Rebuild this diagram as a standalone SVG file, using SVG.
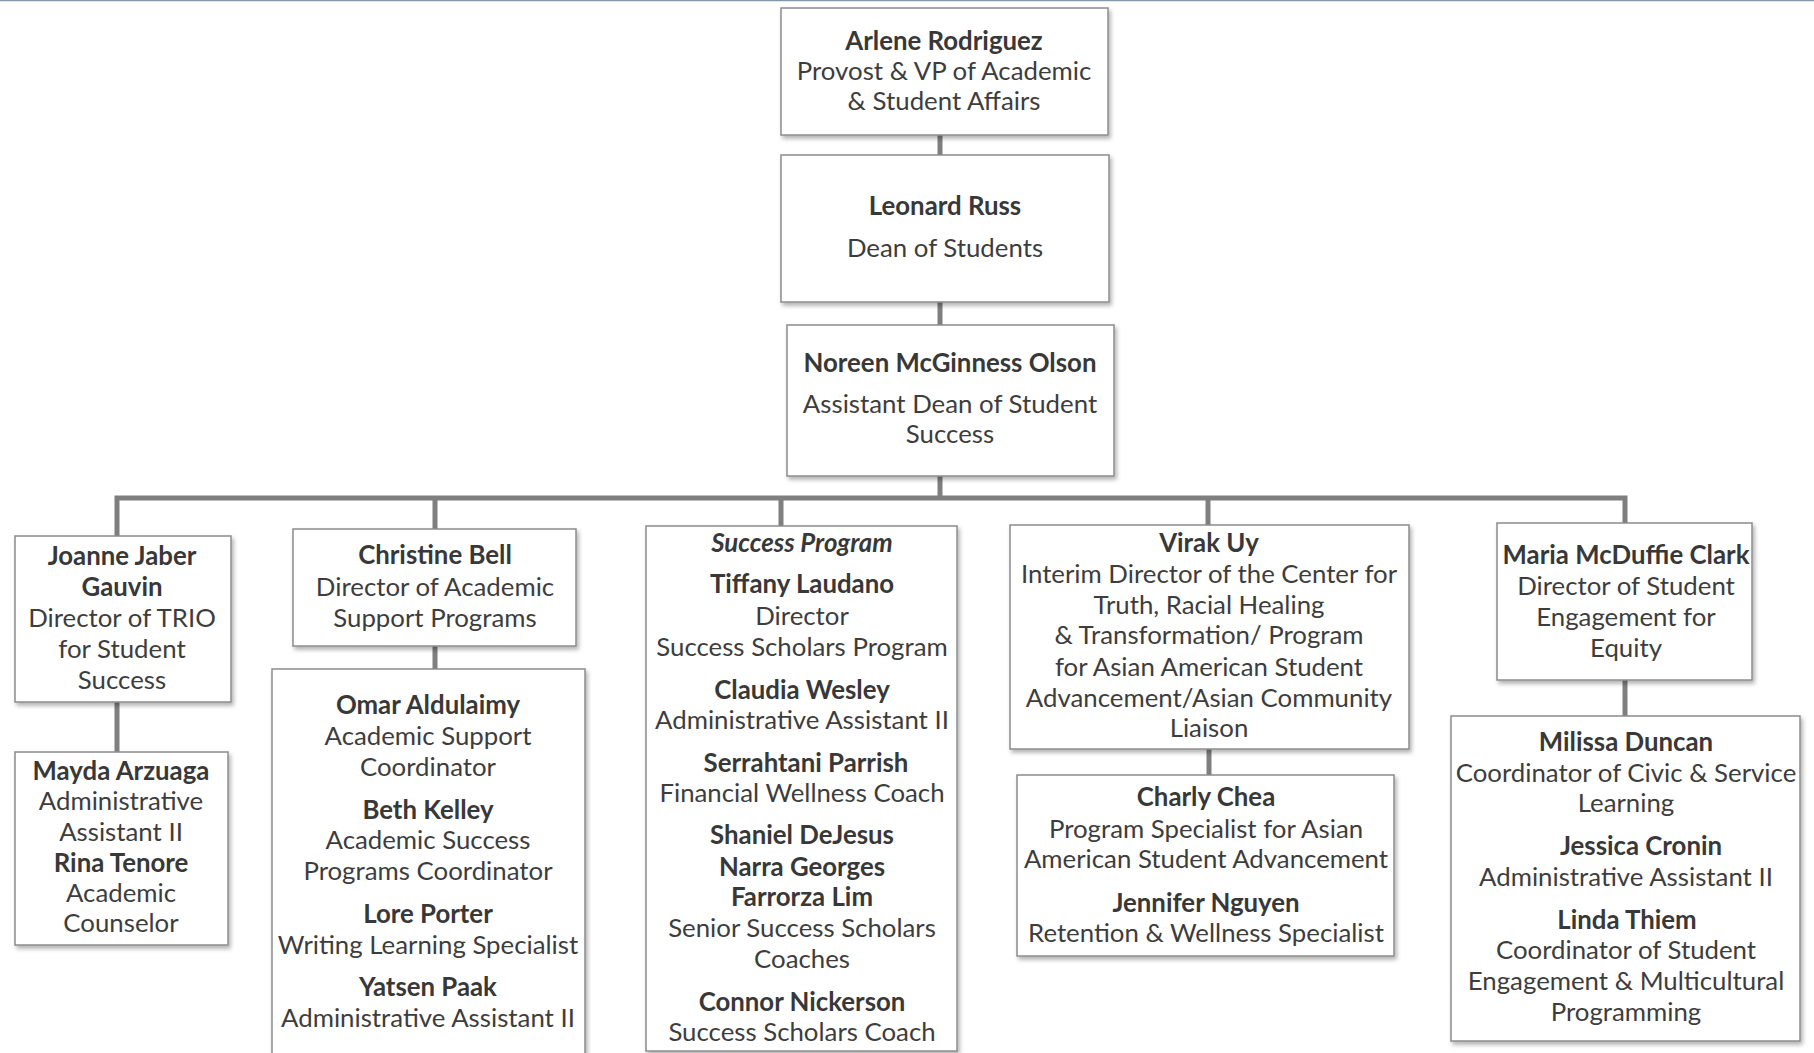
<svg xmlns="http://www.w3.org/2000/svg" width="1814" height="1053" viewBox="0 0 1814 1053">
<style>
.box{fill:#ffffff;stroke:#8c8c8c;stroke-width:1.5;filter:url(#sh)}
.conn{stroke:#7f7f7f;stroke-width:5;fill:none}
text{font-family:Lato,"Liberation Sans",sans-serif;font-size:25.8px;fill:#3d3d3d;text-anchor:middle}
.b{font-weight:bold;fill:#383838}
.bi{font-weight:bold;font-style:italic;fill:#383838}
</style>
<defs>
<filter id="sh" x="-10%" y="-10%" width="125%" height="125%">
<feDropShadow dx="2" dy="3" stdDeviation="2" flood-color="#000" flood-opacity="0.3"/>
</filter>
</defs>
<rect x="0" y="0" width="1814" height="1053" fill="#ffffff"/>
<line x1="0" y1="0.5" x2="1814" y2="0.5" stroke="#8496b0" stroke-width="1.5"/>
<g id="connectors">
<line class="conn" x1="940" y1="135" x2="940" y2="155"/>
<line class="conn" x1="940" y1="302" x2="940" y2="325"/>
<line class="conn" x1="940" y1="476" x2="940" y2="498"/>
<polyline class="conn" points="117,536 117,498 1625,498 1625,523"/>
<line class="conn" x1="435" y1="498" x2="435" y2="529"/>
<line class="conn" x1="781" y1="498" x2="781" y2="526"/>
<line class="conn" x1="1208" y1="498" x2="1208" y2="525"/>
<line class="conn" x1="117" y1="702" x2="117" y2="752"/>
<line class="conn" x1="435" y1="646" x2="435" y2="669"/>
<line class="conn" x1="1209" y1="749" x2="1209" y2="775"/>
<line class="conn" x1="1625" y1="680" x2="1625" y2="716"/>
</g>
<g id="arlene">
<rect class="box" x="781" y="8" width="327" height="127"/>
<text x="944" y="50" class="b">Arlene Rodriguez</text>
<text x="944" y="80">Provost &amp; VP of Academic</text>
<text x="944" y="110">&amp; Student Affairs</text>
</g>
<g id="leonard">
<rect class="box" x="781" y="155" width="328" height="147"/>
<text x="945" y="215" class="b">Leonard Russ</text>
<text x="945" y="257">Dean of Students</text>
</g>
<g id="noreen">
<rect class="box" x="787" y="325" width="327" height="151"/>
<text x="950" y="372" class="b">Noreen McGinness Olson</text>
<text x="950" y="413">Assistant Dean of Student</text>
<text x="950" y="443">Success</text>
</g>
<g id="joanne">
<rect class="box" x="15" y="536" width="216" height="166"/>
<text x="122" y="565" class="b">Joanne Jaber</text>
<text x="122" y="596" class="b">Gauvin</text>
<text x="122" y="627">Director of TRIO</text>
<text x="122" y="658">for Student</text>
<text x="122" y="689">Success</text>
</g>
<g id="mayda">
<rect class="box" x="15" y="752" width="213" height="193"/>
<text x="121" y="780" class="b">Mayda Arzuaga</text>
<text x="121" y="810">Administrative</text>
<text x="121" y="841">Assistant II</text>
<text x="121" y="872" class="b">Rina Tenore</text>
<text x="121" y="902">Academic</text>
<text x="121" y="932">Counselor</text>
</g>
<g id="christine">
<rect class="box" x="293" y="529" width="283" height="117"/>
<text x="435" y="564" class="b">Christine Bell</text>
<text x="435" y="596">Director of Academic</text>
<text x="435" y="627">Support Programs</text>
</g>
<g id="christine-team">
<rect class="box" x="272" y="669" width="313" height="400"/>
<text x="428" y="714" class="b">Omar Aldulaimy</text>
<text x="428" y="745">Academic Support</text>
<text x="428" y="776">Coordinator</text>
<text x="428" y="819" class="b">Beth Kelley</text>
<text x="428" y="849">Academic Success</text>
<text x="428" y="880">Programs Coordinator</text>
<text x="428" y="923" class="b">Lore Porter</text>
<text x="428" y="954">Writing Learning Specialist</text>
<text x="428" y="996" class="b">Yatsen Paak</text>
<text x="428" y="1027">Administrative Assistant II</text>
</g>
<g id="success">
<rect class="box" x="646" y="526" width="311" height="525"/>
<text x="802" y="552" class="bi">Success Program</text>
<text x="802" y="593" class="b">Tiffany Laudano</text>
<text x="802" y="625">Director</text>
<text x="802" y="656">Success Scholars Program</text>
<text x="802" y="699" class="b">Claudia Wesley</text>
<text x="802" y="729">Administrative Assistant II</text>
<text x="806" y="772" class="b">Serrahtani Parrish</text>
<text x="802" y="802">Financial Wellness Coach</text>
<text x="802" y="844" class="b">Shaniel DeJesus</text>
<text x="802" y="876" class="b">Narra Georges</text>
<text x="802" y="906" class="b">Farrorza Lim</text>
<text x="802" y="937">Senior Success Scholars</text>
<text x="802" y="968">Coaches</text>
<text x="802" y="1011" class="b">Connor Nickerson</text>
<text x="802" y="1041">Success Scholars Coach</text>
</g>
<g id="virak">
<rect class="box" x="1010" y="525" width="399" height="224"/>
<text x="1209" y="552" class="b">Virak Uy</text>
<text x="1209" y="583">Interim Director of the Center for</text>
<text x="1209" y="614">Truth, Racial Healing</text>
<text x="1209" y="644">&amp; Transformation/ Program</text>
<text x="1209" y="676">for Asian American Student</text>
<text x="1209" y="707">Advancement/Asian Community</text>
<text x="1209" y="737">Liaison</text>
</g>
<g id="charly">
<rect class="box" x="1017" y="775" width="377" height="181"/>
<text x="1206" y="806" class="b">Charly Chea</text>
<text x="1206" y="838">Program Specialist for Asian</text>
<text x="1206" y="868">American Student Advancement</text>
<text x="1206" y="912" class="b">Jennifer Nguyen</text>
<text x="1206" y="942">Retention &amp; Wellness Specialist</text>
</g>
<g id="maria">
<rect class="box" x="1497" y="523" width="255" height="157"/>
<text x="1626" y="564" class="b">Maria McDuffie Clark</text>
<text x="1626" y="595">Director of Student</text>
<text x="1626" y="626">Engagement for</text>
<text x="1626" y="657">Equity</text>
</g>
<g id="milissa">
<rect class="box" x="1451" y="716" width="349" height="325"/>
<text x="1626" y="751" class="b">Milissa Duncan</text>
<text x="1626" y="782">Coordinator of Civic &amp; Service</text>
<text x="1626" y="812">Learning</text>
<text x="1641" y="855" class="b">Jessica Cronin</text>
<text x="1626" y="886">Administrative Assistant II</text>
<text x="1627" y="929" class="b">Linda Thiem</text>
<text x="1626" y="959">Coordinator of Student</text>
<text x="1626" y="990">Engagement &amp; Multicultural</text>
<text x="1626" y="1021">Programming</text>
</g>
</svg>
